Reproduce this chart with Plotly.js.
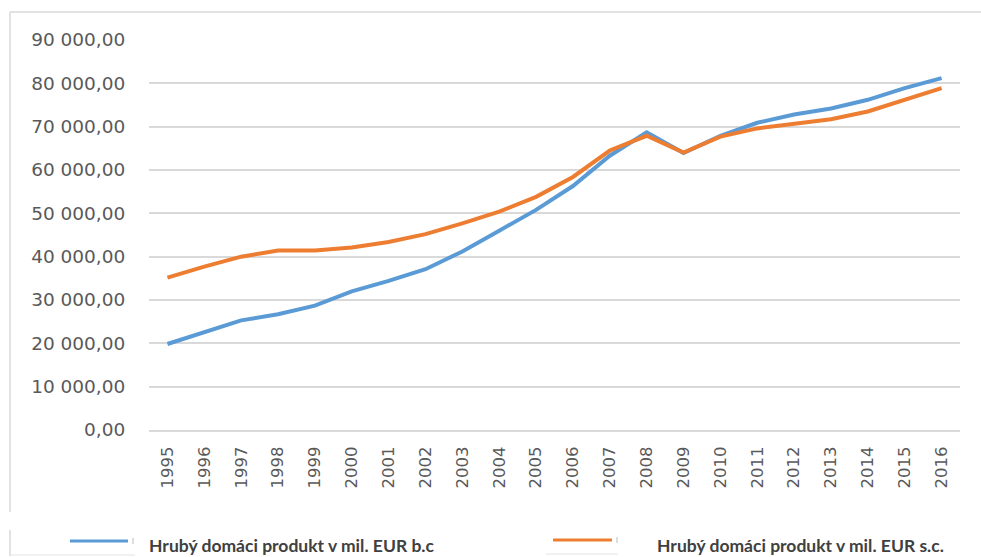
<!DOCTYPE html>
<html>
<head>
<meta charset="utf-8">
<script src="https://cdn.plot.ly/plotly-3.0.1.min.js"></script>
<style>html,body{margin:0;padding:0;background:#fff;}#chart{width:981px;height:557px;}</style>
</head>
<body>
<div id="chart"></div>
<script>
const years = ['1995','1996','1997','1998','1999','2000','2001','2002','2003','2004','2005','2006','2007','2008','2009','2010','2011','2012','2013','2014','2015','2016'];
const gdpCurrent = [19850, 22600, 25300, 26700, 28700, 32000, 34400, 37100, 41200, 46000, 50800, 56300, 63300, 68700, 63900, 67900, 70900, 72800, 74200, 76200, 78900, 81200];
const gdpConstant = [35150, 37700, 40000, 41400, 41400, 42100, 43400, 45200, 47700, 50400, 53800, 58400, 64500, 67900, 64000, 67700, 69600, 70700, 71700, 73500, 76200, 78900];
const seriesNames = ['Hrubý domáci produkt v mil. EUR b.c', 'Hrubý domáci produkt v mil. EUR s.c.'];
const colors = ['#5B9BD5', '#ED7D31'];

const traces = [
  {x: years, y: gdpCurrent, name: seriesNames[0], type: 'scatter', mode: 'lines',
   line: {color: colors[0], width: 4}},
  {x: years, y: gdpConstant, name: seriesNames[1], type: 'scatter', mode: 'lines',
   line: {color: colors[1], width: 4}}
];

// helpers: pixel -> paper coordinates for decorations
const L = 149, R = 21, T = 40, B = 127, W = 981, H = 557;
const pw = W - L - R, ph = H - T - B;
const px = v => (v - L) / pw;
const py = v => (H - B - v) / ph;

const shapes = [
  // chart frame (Excel chart area border)
  {type: 'line', xref: 'paper', yref: 'paper', x0: px(10), x1: px(990), y0: py(12), y1: py(12), line: {color: '#d9d9d9', width: 1.5}},
  {type: 'line', xref: 'paper', yref: 'paper', x0: px(10), x1: px(10), y0: py(12), y1: py(512), line: {color: '#d9d9d9', width: 1.5}},
  // legend box fragments
  {type: 'line', xref: 'paper', yref: 'paper', x0: px(10), x1: px(10), y0: py(530), y1: py(556), line: {color: '#d9d9d9', width: 1.5}},
  {type: 'line', xref: 'paper', yref: 'paper', x0: px(10), x1: px(135), y0: py(555), y1: py(555), line: {color: '#e3e3e3', width: 1.2}},
  {type: 'line', xref: 'paper', yref: 'paper', x0: px(546), x1: px(618), y0: py(554), y1: py(554), line: {color: '#e3e3e3', width: 1.2}},
  // legend symbols
  {type: 'line', xref: 'paper', yref: 'paper', x0: px(70), x1: px(128), y0: py(541), y1: py(541), line: {color: colors[0], width: 3}},
  {type: 'line', xref: 'paper', yref: 'paper', x0: px(133), x1: px(133), y0: py(538), y1: py(544), line: {color: '#bbbbbb', width: 1}},
  {type: 'line', xref: 'paper', yref: 'paper', x0: px(553), x1: px(612), y0: py(540), y1: py(540), line: {color: colors[1], width: 3}},
  {type: 'line', xref: 'paper', yref: 'paper', x0: px(617), x1: px(617), y0: py(537), y1: py(543), line: {color: '#bbbbbb', width: 1}}
];

const annotations = [
  {xref: 'paper', yref: 'paper', x: px(147), y: py(545), xanchor: 'left', yanchor: 'middle', showarrow: false,
   text: '<b>' + seriesNames[0] + '</b>', font: {family: 'Lato, sans-serif', size: 17.5, color: '#404040'}},
  {xref: 'paper', yref: 'paper', x: px(655), y: py(545), xanchor: 'left', yanchor: 'middle', showarrow: false,
   text: '<b>' + seriesNames[1] + '</b>', font: {family: 'Lato, sans-serif', size: 17.5, color: '#404040'}}
];

const layout = {
  width: W, height: H,
  margin: {l: L, r: R, t: T, b: B, pad: 0},
  paper_bgcolor: '#ffffff', plot_bgcolor: '#ffffff',
  showlegend: false,
  separators: ', ',
  font: {family: 'DejaVu Sans, sans-serif', color: '#595959'},
  xaxis: {
    type: 'category', tickangle: -90, showgrid: false, zeroline: false,
    showline: true, linecolor: '#d9d9d9', linewidth: 2,
    ticks: 'outside', ticklen: 8, tickcolor: 'rgba(0,0,0,0)',
    tickfont: {family: 'DejaVu Sans, sans-serif', size: 16.5, color: '#595959'},
    range: [-0.5, years.length - 0.5], fixedrange: true
  },
  yaxis: {
    range: [0, 90000], dtick: 10000, tick0: 0, tickformat: ',.2f',
    showgrid: true, gridcolor: '#d9d9d9', gridwidth: 2,
    zeroline: false, showline: false,
    ticks: 'outside', ticklen: 19, tickcolor: 'rgba(0,0,0,0)',
    tickfont: {family: 'DejaVu Sans, sans-serif', size: 18.5, color: '#595959'},
    fixedrange: true
  },
  shapes: shapes,
  annotations: annotations
};

Plotly.newPlot('chart', traces, layout, {displayModeBar: false, staticPlot: true});
</script>
</body>
</html>
